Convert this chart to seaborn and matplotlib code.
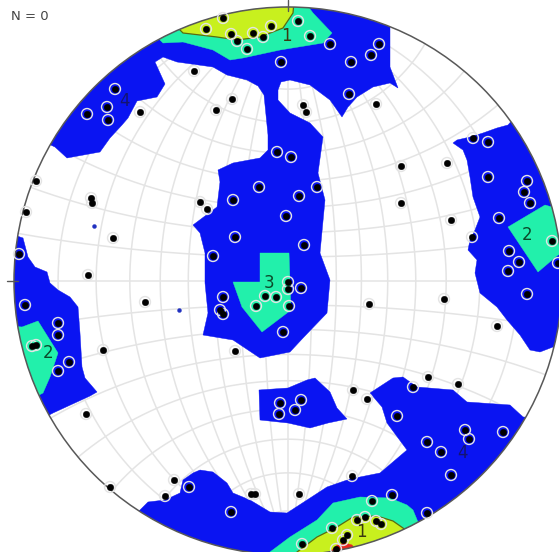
import numpy as np
import pandas as pd
import matplotlib
matplotlib.use("Agg")
import matplotlib.pyplot as plt
import seaborn as sns
from matplotlib.patches import Circle, Polygon

# ---------------- data (net frame: centre CX,CY, primitive radius R) ----------
CX, CY, R = 288.0, 281.0, 274.0

pole_px = [223, 206, 231, 237, 253, 263, 271, 247, 298, 310, 330, 379, 371, 351, 281, 349, 194, 232, 216, 303,
           306, 376, 115, 107, 87, 108, 140, 36, 91, 92, 26, 113, 19, 88, 145, 25, 58, 58, 32, 36,
           69, 58, 103, 86, 110, 174, 189, 165, 231, 251, 255, 235, 200, 207, 277, 291, 259, 299, 317, 233,
           286, 235, 304, 213, 223, 220, 223, 288, 288, 301, 265, 276, 256, 289, 283, 369, 401, 447, 401, 451,
           444, 473, 488, 488, 527, 524, 530, 499, 472, 552, 509, 519, 508, 558, 527, 497, 428, 413, 458, 353,
           367, 397, 465, 469, 503, 427, 441, 451, 352, 392, 372, 427, 357, 365, 376, 381, 347, 343, 299, 332,
           302, 336, 280, 301, 279, 295]
pole_py = [18, 29, 34, 41, 33, 37, 26, 49, 21, 36, 44, 44, 55, 62, 62, 94, 71, 99, 110, 105,
           112, 104, 89, 107, 114, 120, 112, 181, 198, 203, 212, 238, 254, 275, 302, 305, 323, 335, 346, 345,
           362, 371, 350, 414, 487, 480, 487, 496, 512, 494, 494, 351, 202, 209, 152, 157, 187, 196, 187, 200,
           216, 237, 245, 256, 297, 310, 314, 282, 289, 288, 296, 297, 306, 306, 332, 304, 166, 163, 203, 220,
           299, 138, 142, 177, 181, 192, 203, 218, 237, 241, 251, 262, 271, 263, 294, 326, 377, 387, 384, 390,
           399, 416, 430, 439, 432, 442, 452, 475, 476, 495, 501, 513, 520, 517, 521, 524, 535, 540, 494, 528,
           544, 549, 403, 400, 414, 410]

extra_px = [94, 179]
extra_py = [226, 310]

# contour regions: x list, y list
blue_main_x = [40, 55, 67, 100, 110, 122, 128, 137, 157, 165, 155, 163, 177, 213, 227, 247, 258, 264, 266, 268,
               268, 260, 233, 218, 220, 217, 193, 200, 205, 205, 208, 203, 233, 260, 290, 303, 327, 330, 320, 325,
               318, 323, 310, 290, 278, 278, 281, 290, 310, 330, 342, 348, 357, 373, 390, 398, 390, 390, 400, 100, 0]
blue_main_y = [140, 147, 158, 152, 138, 125, 118, 101, 97, 84, 62, 57, 62, 67, 75, 80, 86, 95, 115, 135,
               150, 158, 163, 170, 182, 207, 225, 233, 253, 283, 313, 335, 340, 358, 352, 338, 313, 280, 253, 200,
               173, 137, 123, 113, 100, 90, 82, 80, 85, 100, 117, 107, 97, 87, 83, 88, 67, 20, -10, -10, 100]
blue_left_x = [0, 20, 23, 28, 35, 47, 50, 58, 70, 78, 80, 82, 85, 97, 90, 53, 40, 0]
blue_left_y = [230, 237, 238, 257, 267, 272, 283, 290, 297, 307, 333, 367, 378, 392, 396, 413, 420, 420]
blue_right_x = [453, 457, 470, 483, 497, 508, 530, 600, 600, 570, 553, 540, 530, 520, 507, 497, 480, 475, 477,
                468, 470, 475, 480, 473, 470, 467, 463]
blue_right_y = [143, 140, 137, 133, 128, 125, 100, 100, 360, 345, 347, 352, 350, 335, 320, 307, 293, 273, 260,
                250, 240, 230, 217, 197, 177, 160, 150]
blue_mid_x = [259, 288, 307, 315, 330, 337, 347, 328, 310, 288, 260]
blue_mid_y = [390, 388, 380, 378, 392, 408, 419, 423, 428, 423, 420]
blue_bot_x = [130, 148, 165, 180, 183, 193, 200, 213, 227, 233, 250, 270, 287, 307, 327, 350, 380, 407, 387, 382,
              370, 393, 403, 417, 453, 467, 510, 523, 560, 560, 130]
blue_bot_y = [520, 502, 500, 493, 480, 473, 470, 472, 483, 493, 500, 512, 513, 500, 487, 479, 473, 450, 423, 407,
              393, 378, 377, 387, 390, 402, 405, 417, 420, 600, 600]

cyan_top_x = [150, 163, 183, 213, 230, 243, 280, 323, 332, 313, 307, 307, 150]
cyan_top_y = [30, 43, 42, 50, 60, 58, 50, 43, 33, 13, 5, -10, -10]
cyan_mid_x = [260, 289, 291, 262, 242, 233, 260]
cyan_mid_y = [253, 253, 310, 332, 307, 282, 282]
cyan_left_x = [0, 22, 38, 58, 50, 43, 30, 0]
cyan_left_y = [325, 327, 321, 353, 377, 393, 400, 400]
cyan_right_x = [508, 545, 552, 590, 590, 558, 538]
cyan_right_y = [227, 205, 207, 200, 250, 255, 272]
cyan_bot_x = [250, 270, 290, 317, 333, 360, 390, 407, 413, 418, 430, 430, 250]
cyan_bot_y = [560, 552, 537, 520, 503, 497, 498, 505, 510, 522, 530, 600, 600]

yel_top_x = [170, 183, 217, 237, 260, 283, 293, 295, 170]
yel_top_y = [20, 33, 37, 40, 37, 28, 13, -10, -10]
yel_bot_x = [285, 297, 317, 337, 353, 377, 393, 403, 415, 415, 285]
yel_bot_y = [570, 552, 537, 527, 517, 516, 521, 528, 540, 600, 600]

red_bot_x = [330, 337, 345, 352, 358, 358, 330]
red_bot_y = [552, 545, 543, 545, 552, 570, 570]

label_text = ["1", "4", "3", "2", "2", "4", "1"]
label_px = [286, 125, 269, 48, 527, 463, 361]
label_py = [36, 101, 283, 353, 235, 453, 532]
label_kind = ["yellow", "blue", "cyan", "cyan", "cyan", "blue", "yellow"]

# ---------------- styling ----------------
sns.set_theme(style="white")
plt.rcParams["font.family"] = ["DejaVu Sans"]

BLUE = "#0a14f2"
CYAN = "#22f0ab"
YELLOW = "#c8f01e"
RED = "#e8281e"
GRID = "#e4e4e4"


def nx(v):
    return (np.asarray(v, float) - CX) / R


def ny(v):
    return (CY - np.asarray(v, float)) / R


fig = plt.figure(figsize=(5.59, 5.52), dpi=100)
ax = fig.add_axes([0, 0, 1, 1])
ax.set_xlim(nx(0), nx(559))
ax.set_ylim(ny(552), ny(0))
ax.set_aspect("equal")
ax.axis("off")

clip = Circle((0, 0), 1.0, transform=ax.transData, facecolor="none", edgecolor="none")
ax.add_patch(clip)

# Wulff (equal-angle) net grid
t = np.radians(np.linspace(-90, 90, 361))
for deg in range(-80, 81, 10):
    lam = np.radians(deg)
    X = np.cos(t) * np.sin(lam); Y = np.sin(t); Z = np.cos(t) * np.cos(lam)
    ax.plot(X / (1 + Z), Y / (1 + Z), color=GRID, lw=1.1, zorder=1)
    th = np.radians(deg)
    X = np.cos(th) * np.sin(t); Y = np.sin(th) * np.ones_like(t); Z = np.cos(th) * np.cos(t)
    ax.plot(X / (1 + Z), Y / (1 + Z), color=GRID, lw=1.1, zorder=1)

regions = [
    (blue_main_x, blue_main_y, BLUE, None), (blue_left_x, blue_left_y, BLUE, None),
    (blue_right_x, blue_right_y, BLUE, None), (blue_mid_x, blue_mid_y, BLUE, None),
    (blue_bot_x, blue_bot_y, BLUE, None),
    (cyan_top_x, cyan_top_y, CYAN, None), (cyan_mid_x, cyan_mid_y, CYAN, None),
    (cyan_left_x, cyan_left_y, CYAN, None), (cyan_right_x, cyan_right_y, CYAN, None),
    (cyan_bot_x, cyan_bot_y, CYAN, None),
    (yel_top_x, yel_top_y, YELLOW, "#5a6a10"), (yel_bot_x, yel_bot_y, YELLOW, "#5a6a10"),
    (red_bot_x, red_bot_y, RED, None),
]
for i, (xs, ys, col, ec) in enumerate(regions):
    poly = Polygon(np.column_stack([nx(xs), ny(ys)]), closed=True, facecolor=col,
                   edgecolor=ec if ec else col, lw=0.9 if ec else 0.3, zorder=2 + i * 0.01)
    ax.add_patch(poly)
    poly.set_clip_path(clip)

# primitive circle and ticks
ax.add_patch(Circle((0, 0), 1.0, facecolor="none", edgecolor="#585858", lw=1.1, zorder=4))
ax.plot([0, 0], [0.985, 1.025], color="#585858", lw=1.0, zorder=4)
ax.plot([-1.025, -0.985], [0, 0], color="#585858", lw=1.0, zorder=4)

# poles
df = pd.DataFrame({"x": nx(pole_px), "y": ny(pole_py)})
sns.scatterplot(data=df, x="x", y="y", ax=ax, s=62, marker="o", facecolor="none",
                edgecolor="#e4e4e4", linewidth=1.0, zorder=5, legend=False)
sns.scatterplot(data=df, x="x", y="y", ax=ax, s=22, marker="o", color="black",
                edgecolor="black", linewidth=0.3, zorder=6, legend=False)
dfe = pd.DataFrame({"x": nx(extra_px), "y": ny(extra_py)})
sns.scatterplot(data=dfe, x="x", y="y", ax=ax, s=8, marker="o", color="#2030c0",
                edgecolor="#2030c0", linewidth=0.3, zorder=6, legend=False)

lab_col = {"yellow": "#3a3a10", "blue": "#141470", "cyan": "#0b4a2a"}
for s, px, py, k in zip(label_text, label_px, label_py, label_kind):
    ax.text(nx(px), ny(py), s, ha="center", va="center", fontsize=12, color=lab_col[k], zorder=7)

ax.text(nx(11), ny(17), "N = 0", ha="left", va="center", fontsize=9.5, color="#444444", zorder=7)

fig.savefig("out.png", dpi=100)
